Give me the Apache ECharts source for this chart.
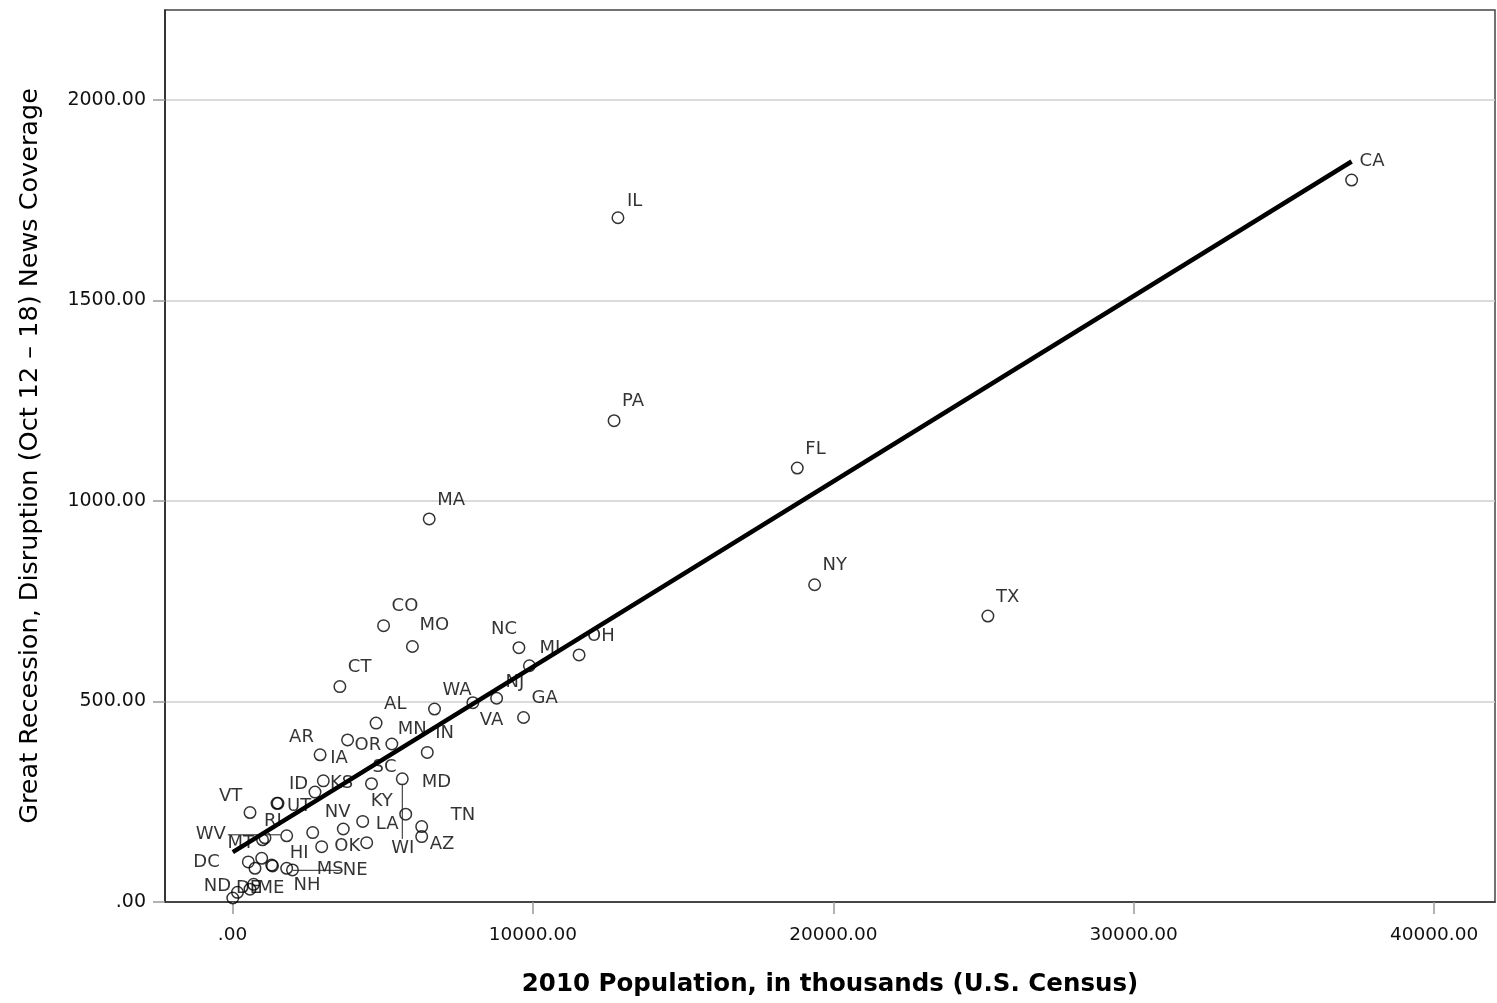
<!DOCTYPE html>
<html>
<head>
<meta charset="utf-8">
<script src="https://cdn.jsdelivr.net/npm/echarts@6/dist/echarts.min.js"></script>
<style>
html,body{margin:0;padding:0;background:#fff;}
#chart{width:1497px;height:1003px;}
</style>
</head>
<body>
<div id="chart"></div>
<script>
// ---------------- data ----------------
const states = ['CA','IL','PA','FL','NY','TX','MA','CO','MO','CT','NC','MI','OH','NJ','WA','VA','GA','AL','MN','IN','OR',
  'AR','IA','KS','ID','UT','VT','WV','MT','RI','DC','HI','NH','NE','MS','ND','DE','ME','NV','OK','KY','LA','SC','WI','MD','TN','AZ','AK','SD','WY','NM'];
const population = [37254,12831,12702,18801,19378,25146,6548,5029,5989,3574,9535,9884,11537,8792,6725,8001,9688,4780,5304,6484,3831,
  2916,3023,2746,1481,1515,583,1804,1000,1082,526,1305,1332,1803,2969,10,582,702,2670,3688,4334,4467,4627,5652,5766,6298,6298,749,972,166,1997];
const coverage = [1800,1706,1200,1082,791,713,955,689,637,537,634,589,616,508,481,497,460,446,394,373,404,
  367,302,274,246,246,223,165,155,160,100,92,90,84,138,10,32,44,173,182,201,148,295,307,219,188,163,84,109,24,80];
const xTickValues = [0,10000,20000,30000,40000];
const yTickValues = [0,500,1000,1500,2000];
const xTitle = '2010 Population, in thousands (U.S. Census)';
const yTitle = 'Great Recession, Disruption (Oct 12 \u2013 18) News Coverage';

// ---------------- label placement (style) ----------------
// [left-edge dx, center dy] relative to the marker centre
const defaultOffset = [8, -19];
const labelOffsets = {
  NC:[-28,-18], VA:[7,18], OR:[7,5], MN:[6,-15], AR:[-31,-17], IA:[7,-23], KS:[15,-9], ID:[12,-19], UT:[9,3],
  VT:[-31,-16], WV:[-91,-1], MT:[-35,3], RI:[-1,-16], DC:[-55,0], HI:[18,-12], NH:[21,19], NE:[56,2], MS:[-5,23],
  ND:[-29,-12], DE:[-14,-1], ME:[4,4], NV:[12,-20], OK:[-9,17], KY:[8,-20], LA:[9,-18], SC:[1,-16], WI:[-11,69],
  MD:[16,-32], TN:[29,-11], AZ:[8,8], IL:[9,-16], MI:[10,-17], NJ:[9,-16], MO:[7,-21]
};
const hiddenLabels = new Set(['AK','SD','WY','NM']);
const leaderLabels = {WV:'h', NE:'h', WI:'v'};

const FONT = 'DejaVu Sans';
const LABEL_SIZE = 18;
const fmt = v => v === 0 ? '.00' : v.toFixed(2);

// least squares fit line computed from the data
const n = population.length;
const mx = population.reduce((s,v)=>s+v,0)/n;
const my = coverage.reduce((s,v)=>s+v,0)/n;
let sxy = 0, sxx = 0;
for (let i=0;i<n;i++){ sxy += (population[i]-mx)*(coverage[i]-my); sxx += (population[i]-mx)**2; }
const slope = sxy/sxx, intercept = my - slope*mx;
const xLo = Math.min(...population), xHi = Math.max(...population);
const fitLine = [[xLo, intercept+slope*xLo],[xHi, intercept+slope*xHi]];

const points = states.map((s,i)=>({
  name: s,
  value: [population[i], coverage[i]],
  label: { show: !hiddenLabels.has(s), offset: labelOffsets[s] || defaultOffset }
}));

const chart = echarts.init(document.getElementById('chart'), null, {renderer:'canvas'});
chart.setOption({
  animation: false,
  backgroundColor: '#fff',
  grid: { left: 165, top: 10, right: 2, bottom: 101, show: true, borderColor: '#444', borderWidth: 1.5 },
  xAxis: {
    type: 'value', min: -2247, max: 42027,
    name: xTitle, nameLocation: 'middle', nameGap: 70,
    nameTextStyle: { fontFamily: FONT, fontSize: 24.5, fontWeight: 'bold', color: '#000' },
    axisLine: { show: true, onZero: false, lineStyle: { color: '#222', width: 1.5 } },
    axisTick: { show: true, customValues: xTickValues, length: 12, lineStyle: { color: '#999', width: 1.5 } },
    axisLabel: { customValues: xTickValues, formatter: fmt, margin: 24, fontFamily: FONT, fontSize: 18.5, color: '#111' },
    splitLine: { show: false }
  },
  yAxis: {
    type: 'value', min: 0, max: 2224, interval: 500,
    name: yTitle, nameLocation: 'middle', nameGap: 122, nameRotate: 90,
    nameTextStyle: { fontFamily: FONT, fontSize: 25.5, color: '#000' },
    axisLine: { show: true, onZero: false, lineStyle: { color: '#222', width: 1.5 } },
    axisTick: { show: true, customValues: yTickValues, length: 12, lineStyle: { color: '#999', width: 1.5 } },
    axisLabel: { customValues: yTickValues, formatter: fmt, margin: 19, fontFamily: FONT, fontSize: 19, color: '#111' },
    splitLine: { show: true, lineStyle: { color: '#cfcfcf', width: 1.5 } }
  },
  series: [
    {
      type: 'scatter', z: 2,
      symbol: 'circle', symbolSize: 11.5,
      itemStyle: { color: 'rgba(0,0,0,0)', borderColor: '#000', borderWidth: 1.5 },
      label: { show: true, position: 'inside', align: 'left', verticalAlign: 'middle',
        formatter: p => p.name, fontFamily: FONT, fontSize: LABEL_SIZE, color: '#000' },
      emphasis: { disabled: true },
      data: points
    },
    {
      type: 'line', z: 5, symbol: 'none', silent: true,
      lineStyle: { color: '#000', width: 4.5 },
      data: fitLine
    }
  ]
});

// leader lines from labels to their markers, positioned via the chart's own scales
const ctx = document.createElement('canvas').getContext('2d');
ctx.font = LABEL_SIZE + 'px "' + FONT + '"';
const leaders = [];
states.forEach((s,i)=>{
  const kind = leaderLabels[s];
  if (!kind) return;
  const p = chart.convertToPixel({gridIndex:0}, [population[i], coverage[i]]);
  const off = labelOffsets[s];
  const w = ctx.measureText(s).width;
  let shape;
  if (kind === 'v') {
    shape = { x1: p[0], y1: p[1] + 6, x2: p[0], y2: p[1] + off[1] - 9 };
  } else if (off[0] < 0) {
    shape = { x1: p[0] + off[0] + w + 2, y1: p[1] + off[1], x2: p[0] - 6, y2: p[1] + off[1] };
  } else {
    shape = { x1: p[0] + 6, y1: p[1] + off[1], x2: p[0] + off[0] - 2, y2: p[1] + off[1] };
  }
  leaders.push({ type: 'line', shape, style: { stroke: '#222', lineWidth: 1 }, silent: true, z: 3 });
});
chart.setOption({ graphic: leaders });
</script>
</body>
</html>
